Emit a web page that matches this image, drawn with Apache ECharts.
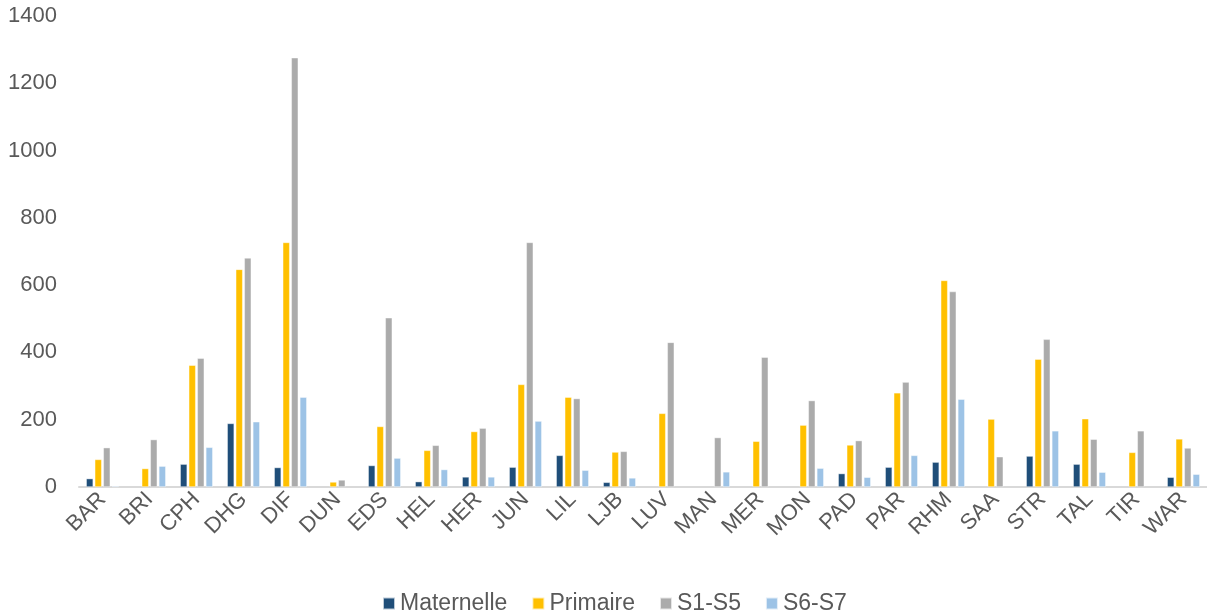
<!DOCTYPE html>
<html>
<head>
<meta charset="utf-8">
<script src="https://cdn.jsdelivr.net/npm/echarts@6/dist/echarts.min.js"></script>
<style>
html,body{margin:0;padding:0;background:#fff;}
#chart{width:1207px;height:616px;}
</style>
</head>
<body>
<div id="chart"></div>
<script>
const categories = ['BAR','BRI','CPH','DHG','DIF','DUN','EDS','HEL','HER','JUN','LIL','LJB','LUV','MAN','MER','MON','PAD','PAR','RHM','SAA','STR','TAL','TIR','WAR'];
const maternelle = [25, null, 68, 189, 58, null, 64, 16, 30, 59, 94, 14, null, null, null, null, 40, 59, 74, null, 92, 68, null, 29];
const primaire   = [82, 55, 362, 647, 727, 15, 180, 109, 165, 305, 267, 104, 219, null, 136, 184, 125, 280, 614, 202, 380, 203, 103, 143];
const s1s5       = [117, 141, 383, 681, 1276, 21, 503, 124, 175, 727, 263, 106, 430, 147, 386, 257, 138, 312, 581, 90, 439, 142, 167, 116];
const s6s7       = [3, 62, 118, 194, 267, null, 86, 52, 30, 196, 50, 27, null, 45, null, 56, 29, 94, 261, null, 167, 44, null, 38];
const yTicks = {min: 0, max: 1400, interval: 200};

const chart = echarts.init(document.getElementById('chart'));
const txt = '#595959';
const font = 'Liberation Sans, Arial, sans-serif';
function s(name, data, color) {
  return {
    name: name, type: 'bar', data: data,
    barWidth: 7, barGap: '22%',
    itemStyle: {color: color, borderColor: 'rgba(255,255,255,0.7)', borderWidth: 0.6},
    emphasis: {disabled: true}
  };
}
chart.setOption({
  animation: false,
  textStyle: {fontFamily: font},
  grid: {left: 79, right: 0, top: 16, bottom: 129, containLabel: false},
  legend: {
    left: 377, top: 587,
    itemWidth: 12, itemHeight: 12, itemGap: 24,
    icon: 'rect',
    textStyle: {color: txt, fontSize: 23, fontFamily: font},
    data: ['Maternelle','Primaire','S1-S5','S6-S7']
  },
  xAxis: {
    type: 'category', data: categories,
    axisLine: {lineStyle: {color: '#D9D9D9', width: 2}},
    axisTick: {show: false},
    axisLabel: {color: txt, fontSize: 22, fontFamily: font, rotate: 45, margin: 9, interval: 0}
  },
  yAxis: {
    type: 'value', min: yTicks.min, max: yTicks.max, interval: yTicks.interval,
    axisLine: {show: false}, axisTick: {show: false},
    splitLine: {show: false},
    axisLabel: {color: txt, fontSize: 22, fontFamily: font, margin: 22, formatter: function (v) { return String(v); }}
  },
  series: [
    s('Maternelle', maternelle, '#1F4E79'),
    s('Primaire', primaire, '#FFC000'),
    s('S1-S5', s1s5, '#ABABAB'),
    s('S6-S7', s6s7, '#9DC3E6')
  ]
});
</script>
</body>
</html>
